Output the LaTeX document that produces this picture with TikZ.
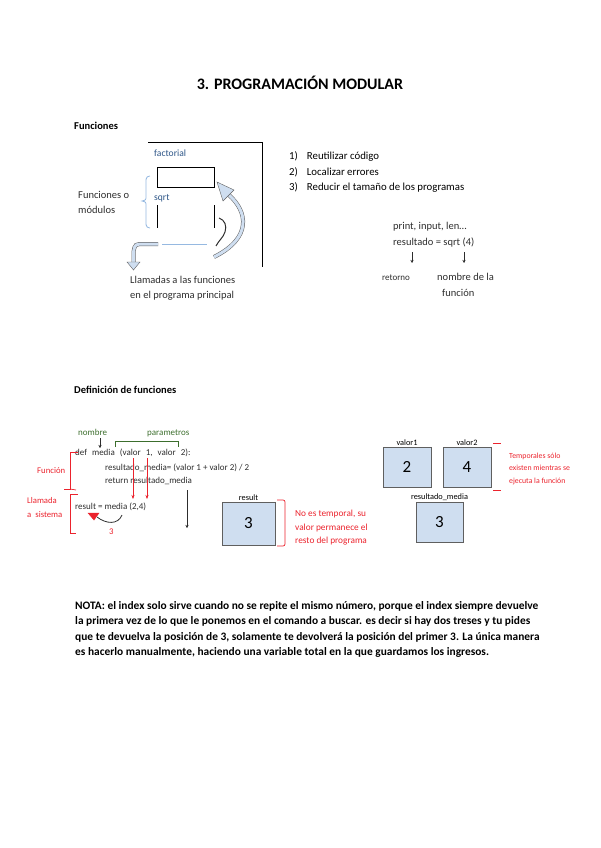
\documentclass[tikz,border=0pt]{standalone}
\usepackage{fontspec}
\setmainfont{Carlito}
\usetikzlibrary{positioning,arrows.meta}
\definecolor{fnblue}{RGB}{45,85,135}
\definecolor{boxfill}{RGB}{207,222,240}
\definecolor{boxline}{RGB}{95,95,95}
\definecolor{notered}{RGB}{235,35,45}
\definecolor{nomgreen}{RGB}{60,110,45}
\definecolor{bracecol}{RGB}{150,185,225}
\definecolor{codegray}{RGB}{45,45,45}

\begin{document}
\begin{tikzpicture}[x=1pt,y=-1pt,
    txt/.style={anchor=base west,inner sep=0pt,font=\fontsize{10.5}{12}\selectfont},
    codetxt/.style={txt,text=codegray,font=\fontsize{9}{10}\selectfont},
    redtxt/.style={txt,text=notered,font=\fontsize{8.7}{10}\selectfont},
    heading/.style={anchor=base west,inner sep=0pt,font=\fontsize{10.5}{12}\bfseries},
    notatxt/.style={anchor=base west,inner sep=0pt,font=\fontsize{11.4}{13}\bfseries},
    varbox/.style={draw=boxline,fill=boxfill,thick,minimum width=48pt,minimum height=40pt,inner sep=0pt,font=\fontsize{17}{19}\selectfont},
    varname/.style={inner sep=1pt,font=\fontsize{8.3}{9}\selectfont},
    hollow/.style={draw=boxline,double=boxfill,double distance=3pt,line width=0.5pt},
    tip/.style={-{Stealth[length=3pt,width=3pt]},codegray}]
    \useasboundingbox (0,0) rectangle (600,848);

    % Title
    \node[anchor=base,inner sep=0pt,font=\fontsize{16}{19}\bfseries] (title) at (300,90) {3. PROGRAMACIÓN MODULAR};

    % Funciones
    \node[heading] (funciones) at (74,129) {Funciones};
    \draw[thick] (148,142) -- (262,142) -- (262,267);
    \node[txt,text=fnblue,font=\fontsize{9.6}{11}\selectfont] (factorial) at (154,157) {factorial};
    \node[draw,thick,minimum width=57pt,minimum height=20pt,inner sep=0pt] (fbox) at (185.5,177) {};
    \node[txt,text=fnblue,font=\fontsize{9.6}{11}\selectfont] (sqrt) at (154,200) {sqrt};
    \draw[thick] (157,205) -- (157,228);
    \draw[thick] (214,205) -- (214,228);
    \draw[bracecol,thick] (150,176) .. controls (145,176) and (146,181) .. (146,186) -- (146,196)
        .. controls (146,200) .. (142,201) .. controls (146,202) .. (146,206) -- (146,218)
        .. controls (146,223) and (145,228) .. (150,228);
    \node[txt,text=codegray] (modulos) at (78,198) {Funciones o};
    \node[txt,text=codegray] at (78,213) {módulos};

    % Llamadas
    \draw[bracecol,thick] (162,244) -- (207,244);
    \draw[hollow] (158,244) -- (145,244) .. controls (135,244) .. (133.5,252) -- (133.5,262);
    \filldraw[draw=boxline,fill=boxfill] (127,262) -- (140,262) -- (133.5,270) -- cycle;
    \draw[hollow] (214,257) .. controls (252,238) and (248,212) .. (229,195);
    \filldraw[draw=boxline,fill=boxfill] (223,201) -- (234,190) -- (217,182) -- cycle;
    \draw[codegray,line width=1pt] (219,218) .. controls (225,220) and (227,226) .. (225,232)
        .. controls (223,238) and (219,240) .. (216,246);
    \node[txt,text=codegray] (llamadas) at (130,283) {Llamadas a las funciones};
    \node[txt,text=codegray] at (130,298) {en el programa principal};

    % Ventajas
    \node[txt,font=\fontsize{10.8}{12}\selectfont] (v1) at (289,159) {1)\hspace{9pt}Reutilizar código};
    \node[txt,font=\fontsize{10.8}{12}\selectfont] (v2) at (289,175) {2)\hspace{9pt}Localizar errores};
    \node[txt,font=\fontsize{10.8}{12}\selectfont] (v3) at (289,190) {3)\hspace{9pt}Reducir el tamaño de los programas};

    % Ejemplo sqrt
    \node[txt,text=codegray] (print) at (393,229) {print, input, len…};
    \node[txt,text=codegray] (resultado) at (393,245) {resultado = sqrt (4)};
    \node[txt,text=codegray,font=\fontsize{9}{11}\selectfont] (retorno) at (382,280) {retorno};
    \node[txt,text=codegray] (nombrefn) at (437,280) {nombre de la};
    \node[txt,text=codegray] at (442,296) {función};
    \coordinate (r1) at (412,252);
    \coordinate (r2) at (464,252);
    \draw[tip] (r1) -- ++(0,11);
    \draw[tip] (r2) -- ++(0,11);

    % Definicion de funciones
    \node[heading] (definicion) at (74,393) {Definición de funciones};
    \node[codetxt,text=nomgreen] (nombre) at (78,435) {nombre};
    \node[codetxt,text=nomgreen] (parametros) at (147,435) {parametros};
    \draw[nomgreen] (115,447) -- (115,441) -- (178,441) -- (178,447);
    \coordinate (n1) at (100,438);
    \draw[tip] (n1) -- ++(0,10);
    \node[codetxt] (def) at (75,455) {def\hspace{5pt}media\hspace{5pt}(valor\hspace{5pt}1,\hspace{5pt}valor\hspace{5pt}2):};
    \node[codetxt] (cuerpo) at (105,470) {resultado\_media= (valor 1 + valor 2) / 2};
    \node[codetxt] (return) at (105,483) {return resultado\_media};
    \node[codetxt] (llamada) at (75,509) {result = media (2,4)};
    \coordinate (p1) at (133,458);
    \coordinate (p2) at (147,458);
    \draw[-{Stealth[length=4pt,width=3pt]},notered] (p1) -- ++(0,41);
    \draw[-{Stealth[length=4pt,width=3pt]},notered] (p2) -- ++(0,41);
    \coordinate (ret) at (187,490);
    \draw[tip] (ret) -- ++(0,38);
    \draw[codegray,thick] (122,515) .. controls (118,525) and (106,524) .. (97,517);
    \filldraw[notered] (88,513) -- (99,513) -- (94,520) -- cycle;
    \node[redtxt] (tres) at (109,534) {3};

    % Corchetes rojos
    \draw[notered,line width=0.7pt] (78,452) -- (70,452) -- (70,489) -- (64,489);
    \draw[notered,line width=0.7pt] (70,489) -- (76,490);
    \draw[notered,line width=0.7pt] (78,494) -- (70,494) -- (70,533) -- (76,533);
    \node[redtxt] (funcion) at (37,473) {Función};
    \node[redtxt] (sistema) at (27,503) {Llamada};
    \node[redtxt] at (27,517) {a\hspace{4pt}sistema};

    % Variable result
    \node[varbox,minimum width=53pt,minimum height=43pt] (result) at (248.5,523.5) {3};
    \node[varname,above=0pt of result] {result};
    \draw[notered,line width=0.7pt,rounded corners=2pt] (277,500) -- (285,500) -- (285,546) -- (277,546);
    \node[redtxt,font=\fontsize{9.3}{11}\selectfont] (permanente) at (295,516) {No es temporal, su};
    \node[redtxt,font=\fontsize{9.3}{11}\selectfont] at (295,530) {valor permanece el};
    \node[redtxt,font=\fontsize{9.3}{11}\selectfont] at (295,543) {resto del programa};

    % Variables temporales
    \node[varbox] (valor1) at (407,467) {2};
    \node[varname,above=0pt of valor1] {valor1};
    \node[varbox] (valor2) at (467,467) {4};
    \node[varname,above=0pt of valor2] {valor2};
    \node[varbox,minimum width=47pt] (resmedia) at (439.5,522) {3};
    \node[varname,above=0pt of resmedia] {resultado\_media};
    \draw[notered,line width=0.7pt] (493,443) -- (501,443);
    \draw[notered,line width=0.7pt] (493,490) -- (501,490);
    \node[redtxt,font=\fontsize{7.8}{9}\selectfont] (temporales) at (509,458) {Temporales sólo};
    \node[redtxt,font=\fontsize{7.8}{9}\selectfont] at (509,470) {existen mientras se};
    \node[redtxt,font=\fontsize{7.8}{9}\selectfont] at (509,483) {ejecuta la función};

    % Nota
    \node[notatxt] (nota) at (75,609) {NOTA: el index solo sirve cuando no se repite el mismo número, porque el index siempre devuelve};
    \node[notatxt] at (75,624) {la primera vez de lo que le ponemos en el comando a buscar. es decir si hay dos treses y tu pides};
    \node[notatxt] at (75,640) {que te devuelva la posición de 3, solamente te devolverá la posición del primer 3. La única manera};
    \node[notatxt] at (75,655) {es hacerlo manualmente, haciendo una variable total en la que guardamos los ingresos.};
\end{tikzpicture}
\end{document}
